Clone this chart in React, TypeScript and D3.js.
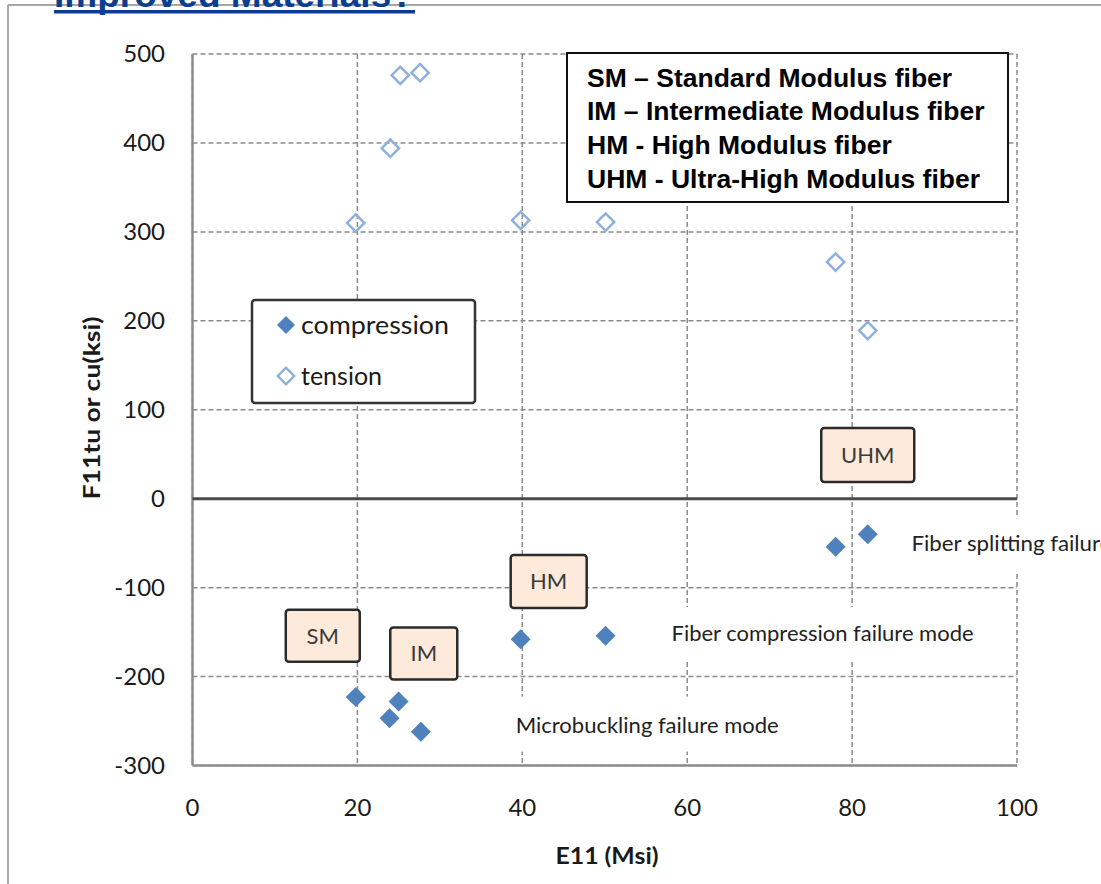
import React from "react";
import * as d3 from "d3";

// ---- data ----
const compressionX = [19.8, 23.9, 25.0, 27.7, 39.8, 50.1, 78.0, 81.9];
const compressionY = [-223, -247, -228, -262, -158, -154, -54, -40];
const tensionX = [19.8, 24.0, 25.2, 27.6, 39.8, 50.1, 78.0, 81.9];
const tensionY = [310, 394, 476, 479, 313, 311, 266, 189];
const xTicks = [0, 20, 40, 60, 80, 100];
const yTicks = [-300, -200, -100, 0, 100, 200, 300, 400, 500];
const seriesNames = ["compression", "tension"];
const fiberClasses = ["SM", "IM", "HM", "UHM"];
const fiberClassX = [15.8, 28.05, 43.2, 81.9];
const fiberClassY = [-154, -174, -93, 49];
const fiberDefs = [
  "SM \u2013 Standard Modulus fiber",
  "IM \u2013 Intermediate Modulus fiber",
  "HM - High Modulus fiber",
  "UHM - Ultra-High Modulus fiber",
];
const failureModes = ["Fiber splitting failure", "Fiber compression failure mode", "Microbuckling failure mode"];
const failureX = [87.2, 58.1, 39.2];
const failureY = [-59, -160, -263];

const W = 1101;
const H = 884;
const x = d3.scaleLinear().domain([0, 100]).range([192.5, 1017]);
const y = d3.scaleLinear().domain([-300, 500]).range([765.5, 54]);

const blue = "#4F81BD";
const lightBlue = "#8EB1DC";
const grid = "#8a8a8a";
const sans = "Lato, 'Open Sans', sans-serif";
const arial = "'Liberation Sans', Arial, sans-serif";

const filledDiamond = d3.symbol(d3.symbolSquare, 200)() as string;
const hollowDiamond = d3.symbol(d3.symbolSquare, 150)() as string;

const boxW = [74, 67, 76, 93];
const boxH = [52, 52, 53, 54];
const failW = [200, 302, 263];
const failBox = [
  [-13, -33, 215, 54],
  [-12, -34, 325, 52],
  [-11, -36, 285, 55],
];

export default function App() {
  return (
    <svg
      width={W}
      height={H}
      style={{ position: "absolute", left: 0, top: 0, background: "#fff" }}
    >
      {/* frame */}
      <line x1={8} y1={5} x2={W} y2={5} stroke="#a6a6a6" strokeWidth={2} />
      <line x1={8} y1={5} x2={8} y2={H} stroke="#a6a6a6" strokeWidth={2} />
      {/* title (cropped at top like the reference) */}
      <text x={54} y={7} fontFamily={arial} fontWeight="bold" fontSize={37} fill="#0B3D91">
        Improved Materials?
      </text>
      <rect x={54} y={10} width={361} height={3.5} fill="#0B3D91" />

      {/* grid */}
      {yTicks.map((t) => (
        <line key={"gy" + t} x1={x(0)} x2={x(100)} y1={y(t)} y2={y(t)} stroke={grid} strokeWidth={1.5} strokeDasharray="5,3" />
      ))}
      {xTicks.map((t) => (
        <line key={"gx" + t} x1={x(t)} x2={x(t)} y1={y(500)} y2={y(-300)} stroke={grid} strokeWidth={1.5} strokeDasharray="5,3" />
      ))}
      {/* axes */}
      <line x1={x(0)} x2={x(0)} y1={y(500)} y2={y(-300)} stroke="#8c8c8c" strokeWidth={2.5} />
      <line x1={x(0)} x2={x(100)} y1={y(-300)} y2={y(-300)} stroke="#8c8c8c" strokeWidth={2.5} />
      <line x1={x(0)} x2={x(100)} y1={y(0)} y2={y(0)} stroke="#4a4a4a" strokeWidth={3} />

      {/* tick labels */}
      {yTicks.map((t) => (
        <text key={"ty" + t} x={165} y={y(t) + 8} textAnchor="end" fontFamily={sans} fontSize={24} fill="#1a1a1a">
          {t}
        </text>
      ))}
      {xTicks.map((t) => (
        <text key={"tx" + t} x={x(t)} y={816} textAnchor="middle" fontFamily={sans} fontSize={24} fill="#1a1a1a">
          {t}
        </text>
      ))}
      {/* axis titles */}
      <text x={607} y={864} textAnchor="middle" fontFamily={sans} fontWeight="bold" fontSize={22} fill="#1a1a1a" textLength={103} lengthAdjust="spacingAndGlyphs">
        E11 (Msi)
      </text>
      <text
        transform="translate(100,408) rotate(-90)"
        textAnchor="middle"
        fontFamily={sans}
        fontWeight="bold"
        fontSize={22}
        fill="#1a1a1a"
        textLength={183}
        lengthAdjust="spacingAndGlyphs"
      >
        F11tu or cu(ksi)
      </text>

      {/* failure mode texts with white backgrounds */}
      {failureModes.map((m, i) => (
        <g key={m} transform={`translate(${x(failureX[i])},${y(failureY[i])})`}>
          <rect x={failBox[i][0]} y={failBox[i][1]} width={failBox[i][2]} height={failBox[i][3]} fill="#fff" />
          <text x={0} y={0} fontFamily={sans} fontSize={21} fill="#222" textLength={failW[i]} lengthAdjust="spacingAndGlyphs">
            {m}
          </text>
        </g>
      ))}

      {/* fiber class boxes */}
      {fiberClasses.map((c, i) => (
        <g key={c} transform={`translate(${x(fiberClassX[i])},${y(fiberClassY[i])})`}>
          <rect x={-boxW[i] / 2} y={-boxH[i] / 2} width={boxW[i]} height={boxH[i]} rx={3} fill="#FDEADA" stroke="#2b2b2b" strokeWidth={2.5} />
          <text x={0} y={8} textAnchor="middle" fontFamily={sans} fontSize={22} fill="#3a3a3a">
            {c}
          </text>
        </g>
      ))}

      {/* tension (hollow) */}
      {tensionX.map((v, i) => (
        <path key={"t" + i} d={hollowDiamond} transform={`translate(${x(v)},${y(tensionY[i])}) rotate(45)`} fill="none" stroke={lightBlue} strokeWidth={2.5} />
      ))}
      {/* compression (filled) */}
      {compressionX.map((v, i) => (
        <path key={"c" + i} d={filledDiamond} transform={`translate(${x(v)},${y(compressionY[i])}) rotate(45)`} fill={blue} />
      ))}

      {/* series legend */}
      <rect x={252} y={300} width={223} height={103} rx={3} fill="#fff" stroke="#333" strokeWidth={2.5} />
      <path d={filledDiamond} transform="translate(286,325) rotate(45) scale(0.9)" fill={blue} />
      <text x={301} y={334} fontFamily={sans} fontSize={25} fill="#1a1a1a" textLength={148} lengthAdjust="spacingAndGlyphs">
        {seriesNames[0]}
      </text>
      <path d={hollowDiamond} transform="translate(286,376) rotate(45) scale(0.95)" fill="none" stroke={lightBlue} strokeWidth={2.5} />
      <text x={301} y={385} fontFamily={sans} fontSize={25} fill="#1a1a1a">
        {seriesNames[1]}
      </text>

      {/* fiber definitions box */}
      <rect x={567} y={53} width={441} height={149} fill="#fff" stroke="#111" strokeWidth={2} />
      {fiberDefs.map((d, i) => (
        <text key={d} x={587} y={86.5 + i * 33.7} fontFamily={arial} fontWeight="bold" fontSize={26.5} fill="#000">
          {d}
        </text>
      ))}
    </svg>
  );
}
